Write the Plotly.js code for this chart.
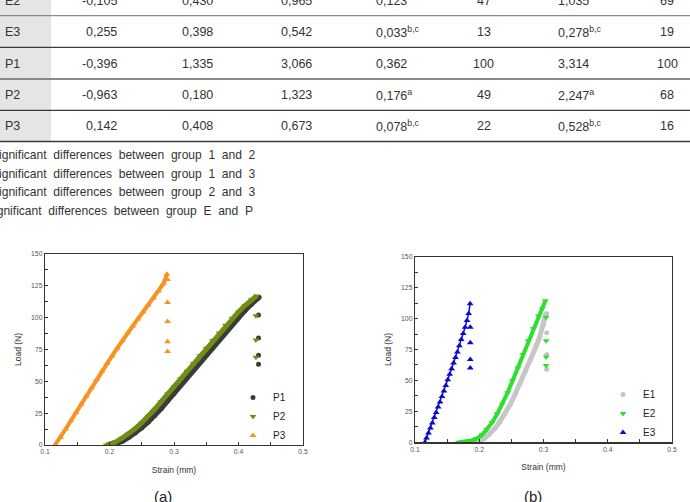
<!DOCTYPE html>
<html><head><meta charset="utf-8">
<script src="https://cdn.plot.ly/plotly-3.0.1.min.js"></script>
<style>html,body{margin:0;padding:0;background:#fff;} #chart{width:690px;height:502px;}</style>
</head><body><div id="chart"></div>
<script>
// ---------- table (partial, cropped at top) ----------
const rowLabels   = ['E2','E3','P1','P2','P3'];
const colMin      = ['-0,105',' 0,255','-0,396','-0,963',' 0,142'];
const colMean     = ['0,430','0,398','1,335','0,180','0,408'];
const colMax      = ['0,965','0,542','3,066','1,323','0,673'];
const colSD       = ['0,123','0,033<sup>b,c</sup>','0,362','0,176<sup>a</sup>','0,078<sup>b,c</sup>'];
const colSDPct    = ['47','13','100','49','22'];
const colRange    = ['1,035','0,278<sup>b,c</sup>','3,314','2,247<sup>a</sup>','0,528<sup>b,c</sup>'];
const colRangePct = ['69','19','100','68','16'];
const footnotes = [
  'Significant differences between group 1 and 2',
  'Significant differences between group 1 and 3',
  'Significant differences between group 2 and 3',
  'Significant differences between group E and P'
];
const panelLabels = ['(a)','(b)'];

// ---------- chart (a): P groups ----------
const p1Strain = [0.205,0.212,0.220,0.230,0.240,0.250,0.260,0.270,0.280,0.290,0.300,0.310,0.320,0.330,0.340,0.350,0.360,0.370,0.380,0.390,0.400,0.410,0.420,0.432];
const p1Load   = [0,1,3,6,9.5,13.5,18,23,28.5,34.5,40.5,47,53,59,65,71,77,83,89,95,100.5,105.5,110.5,116];
const p1DropStrain = [0.431,0.431,0.431,0.431];
const p1DropLoad   = [102,84,70.5,63.5];

const p2Strain = [0.195,0.203,0.210,0.220,0.230,0.240,0.250,0.260,0.270,0.280,0.290,0.300,0.310,0.320,0.330,0.340,0.350,0.360,0.370,0.380,0.390,0.400,0.410,0.420,0.428];
const p2Load   = [0,1,2.5,5.5,9,13,17.5,22.5,28,34,40,46,52,58,64,70,76,82,88,94,99.5,104.5,109.5,114,117];
const p2DropStrain = [0.427,0.427,0.427];
const p2DropLoad   = [101.5,82.5,69];

const p3Strain = [0.1155,0.124,0.132,0.140,0.148,0.156,0.164,0.172,0.180,0.188,0.196,0.204,0.212,0.220,0.228,0.236,0.244,0.252,0.260,0.268,0.276,0.284,0.289];
const p3Load   = [0,6,12.5,19,25.5,32,38.5,45,51.5,58,64,70,76,82,88,93.5,99,104.5,110,115.5,121,127,134];
const p3DropStrain = [0.290,0.290,0.290,0.290,0.290];
const p3DropLoad   = [130,112,97,81,73.5];

// ---------- chart (b): E groups ----------
const e1Strain = [0.190,0.200,0.208,0.216,0.224,0.232,0.240,0.248,0.256,0.264,0.272,0.280,0.288,0.294,0.300,0.303];
const e1Load   = [0,1,3,6.5,11,16.5,23,30.5,39,48,57.5,67,77,85,95,103];
const e1DropStrain = [0.305,0.305,0.305,0.305];
const e1DropLoad   = [104,88.5,71,59];

const e2Strain = [0.168,0.178,0.188,0.196,0.204,0.212,0.220,0.228,0.236,0.244,0.252,0.260,0.268,0.276,0.284,0.292,0.298,0.303];
const e2Load   = [0,0.5,1.5,3,6,10.5,16,23,31,40,50,60,71,82,92,102,108,114.5];
const e2DropStrain = [0.304,0.304,0.304,0.304];
const e2DropLoad   = [101,82,69,62];

const e3Strain = [0.1155,0.118,0.121,0.124,0.127,0.130,0.133,0.136,0.139,0.142,0.145,0.148,0.151,0.154,0.157,0.160,0.163,0.166,0.169,0.172,0.175,0.178,0.181,0.1835,0.1858];
const e3Load   = [0,3.5,7.5,11.5,15.5,20,24,28.5,32.5,37,41.5,46,50.5,55,59.5,64,68.5,73,78,83,88,93,98.5,104,112];
const e3DropStrain = [0.186,0.186,0.186,0.186];
const e3DropLoad   = [93,80.5,67,60];

// ---------- layout helpers ----------
const W = 690, H = 502;
const px = v => v / W;
const py = v => 1 - v / H;
const FONT = 'Arial, "Liberation Sans", sans-serif';

const shapes = [];
const annotations = [];

// gray first column
shapes.push({type:'rect', xref:'paper', yref:'paper', x0:px(0), x1:px(51), y0:py(0), y1:py(141.5),
  fillcolor:'#e5e5e5', line:{width:0}, layer:'below'});
// row rules
const rules = [[15.7,'#8a8a8a',1.3],[47.3,'#3a3a3a',1.3],[79,'#8a8a8a',2],[110.3,'#3a3a3a',1.3],[141.5,'#3a3a3a',1.5]];
rules.forEach(r => shapes.push({type:'line', xref:'paper', yref:'paper', x0:0, x1:1, y0:py(r[0]), y1:py(r[0]),
  line:{color:r[1], width:r[2]}}));

const rowY = [0.8, 32.2, 63.5, 95, 126.3];
const tfont = {family:FONT, size:12.5, color:'#333'};
function cell(text, x, y, anchor){
  annotations.push({xref:'paper', yref:'paper', x:px(x), y:py(y), text:text, showarrow:false,
    xanchor:anchor, yanchor:'middle', font:tfont});
}
rowLabels.forEach((t,i)=>cell(t, 3, rowY[i], 'left'));
colMin.forEach((t,i)=>cell(t.trim(), t.startsWith(' ')?101.5:99, rowY[i], 'center'));
colMean.forEach((t,i)=>cell(t, 197.5, rowY[i], 'center'));
colMax.forEach((t,i)=>cell(t, 296, rowY[i], 'center'));
colSD.forEach((t,i)=>cell(t, 374, rowY[i], 'left'));
colSDPct.forEach((t,i)=>cell(t, 483.5, rowY[i], 'center'));
colRange.forEach((t,i)=>cell(t, 556, rowY[i], 'left'));
colRangePct.forEach((t,i)=>cell(t, 667, rowY[i], 'center'));

const footY = [155, 173.5, 192.3, 211];
const footX = [-11.3, -11.3, -11.3, -16.3];
footnotes.forEach((t,i)=>annotations.push({xref:'paper', yref:'paper', x:px(footX[i]), y:py(footY[i]),
  text:t.split(' ').join('\u00a0 '), showarrow:false, xanchor:'left', yanchor:'middle',
  font:{family:FONT, size:12.05, color:'#333'}}));

annotations.push({xref:'paper', yref:'paper', x:px(163), y:py(496), text:panelLabels[0], showarrow:false,
  xanchor:'center', yanchor:'middle', font:{family:FONT, size:15, color:'#222'}});
annotations.push({xref:'paper', yref:'paper', x:px(532.5), y:py(496), text:panelLabels[1], showarrow:false,
  xanchor:'center', yanchor:'middle', font:{family:FONT, size:15, color:'#222'}});

// ---------- traces ----------
function band(x, y, color, width, xa, ya){
  return {type:'scatter', mode:'lines', x:x, y:y, xaxis:xa, yaxis:ya, showlegend:false,
    line:{color:color, width:width}, hoverinfo:'skip'};
}
function pts(name, x, y, dx, dy, color, symbol, size, xa, ya, leg){
  return {type:'scatter', mode:'markers', name:name, x:x.concat(dx), y:y.concat(dy), xaxis:xa, yaxis:ya,
    legend:leg, marker:{color:color, symbol:symbol, size:size, line:{width:0}}};
}
const cP1 = '#3b3b3b', cP2 = '#6f8f12', cP3 = '#f7931e';
const cE1 = '#c6c6c6', cE2 = '#2ee02e', cE3 = '#0a0acc';

const traces = [
  band(p1Strain, p1Load, cP1, 5, 'x', 'y'),
  pts('P1', p1Strain, p1Load, p1DropStrain, p1DropLoad, cP1, 'circle', 5, 'x', 'y', 'legend'),
  band(p2Strain, p2Load, cP2, 5, 'x', 'y'),
  pts('P2', p2Strain, p2Load, p2DropStrain, p2DropLoad, cP2, 'triangle-down', 6, 'x', 'y', 'legend'),
  band(p3Strain, p3Load, cP3, 4, 'x', 'y'),
  pts('P3', p3Strain, p3Load, p3DropStrain, p3DropLoad, cP3, 'triangle-up', 6, 'x', 'y', 'legend'),
  band(e1Strain, e1Load, cE1, 5, 'x2', 'y2'),
  pts('E1', e1Strain, e1Load, e1DropStrain, e1DropLoad, cE1, 'circle', 5, 'x2', 'y2', 'legend2'),
  band(e2Strain, e2Load, cE2, 4, 'x2', 'y2'),
  pts('E2', e2Strain, e2Load, e2DropStrain, e2DropLoad, cE2, 'triangle-down', 6, 'x2', 'y2', 'legend2'),
  band(e3Strain, e3Load, cE3, 1.5, 'x2', 'y2'),
  pts('E3', e3Strain, e3Load, e3DropStrain, e3DropLoad, cE3, 'triangle-up', 6, 'x2', 'y2', 'legend2')
];

function xAxis(d0, d1, anchor){
  return {domain:[px(d0), px(d1)], anchor:anchor, range:[0.1,0.5], tick0:0.1, dtick:0.1, tickformat:'.1f',
    showline:true, mirror:true, linecolor:'#333', linewidth:1.2, ticks:'inside', ticklen:3, tickcolor:'#333',
    showgrid:false, zeroline:false, tickfont:{family:FONT, size:6.8, color:'#555'},
    minor:{ticks:'inside', ticklen:3, tickcolor:'#333', dtick:0.05, tick0:0.1, showgrid:false},
    title:{text:'Strain (mm)', font:{family:FONT, size:8.5, color:'#333'}, standoff:12}};
}
function yAxis(d0, d1, anchor){
  return {domain:[py(d1), py(d0)], anchor:anchor, range:[0,150], tick0:0, dtick:25,
    showline:true, mirror:true, linecolor:'#333', linewidth:1.2, ticks:'inside', ticklen:3, tickcolor:'#333',
    showgrid:false, zeroline:false, tickfont:{family:FONT, size:6.8, color:'#555'},
    minor:{ticks:'inside', ticklen:3, tickcolor:'#333', dtick:12.5, tick0:0, showgrid:false},
    title:{text:'Load (N)', font:{family:FONT, size:8.5, color:'#333'}, standoff:8}};
}

const layout = {
  width:W, height:H, margin:{l:0, r:0, t:0, b:0}, paper_bgcolor:'#fff', plot_bgcolor:'#fff',
  font:{family:FONT},
  xaxis: xAxis(45, 303, 'y'),
  yaxis: yAxis(254, 445, 'x'),
  xaxis2: xAxis(415, 672, 'y2'),
  yaxis2: yAxis(256.7, 442.3, 'x2'),
  legend:{x:px(233), y:py(383), xanchor:'left', yanchor:'top', bgcolor:'rgba(0,0,0,0)',
    font:{family:FONT, size:10, color:'#222'}, itemwidth:30, tracegroupgap:0},
  legend2:{x:px(603), y:py(380), xanchor:'left', yanchor:'top', bgcolor:'rgba(0,0,0,0)',
    font:{family:FONT, size:10, color:'#222'}, itemwidth:30, tracegroupgap:0},
  shapes:shapes, annotations:annotations, hovermode:false
};

Plotly.newPlot('chart', traces, layout, {staticPlot:true, displayModeBar:false});
</script></body></html>
